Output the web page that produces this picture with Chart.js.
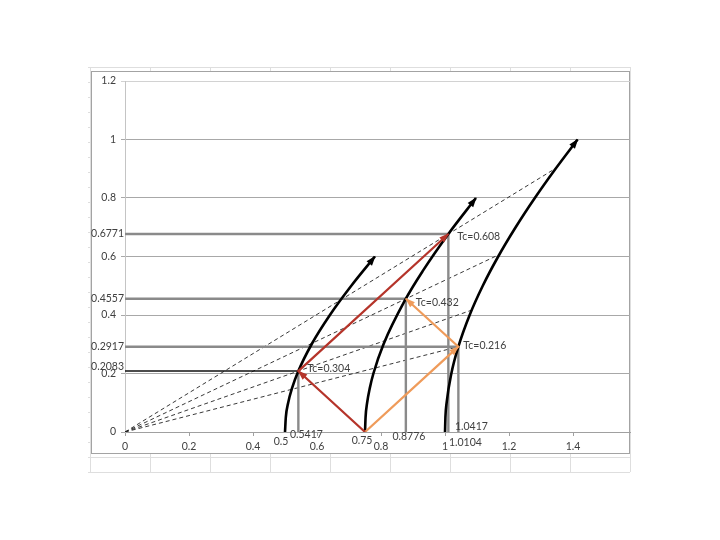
<!DOCTYPE html>
<html><head><meta charset="utf-8">
<script src="https://cdn.jsdelivr.net/npm/chart.js@4.4.1/dist/chart.umd.min.js"></script>
<style>html,body{margin:0;padding:0;background:#fff}#wrap{width:720px;height:540px}</style>
</head><body><div id="wrap"><canvas id="c" width="720" height="540"></canvas></div>
<script>
// ---- data ----
const xTicks = [0, 0.2, 0.4, 0.6, 0.8, 1, 1.2, 1.4];
const yTicks = [0, 0.2, 0.4, 0.6, 0.8, 1, 1.2];

const curve1X = [0.5, 0.5025, 0.5099, 0.5220, 0.5417, 0.5831, 0.6403, 0.7071, 0.7810];
const curve1Y = [0, 0.05, 0.1, 0.15, 0.2083, 0.3, 0.4, 0.5, 0.6];
const curve2X = [0.75, 0.7517, 0.7566, 0.7649, 0.7762, 0.8078, 0.8776, 0.9301, 1.0104, 1.0966];
const curve2Y = [0, 0.05, 0.1, 0.15, 0.2, 0.3, 0.4557, 0.55, 0.6771, 0.8];
const curve3X = [1, 1.0012, 1.0050, 1.0198, 1.0417, 1.0770, 1.1180, 1.1662, 1.2207, 1.2806, 1.3454, 1.4142];
const curve3Y = [0, 0.05, 0.1, 0.2, 0.2917, 0.4, 0.5, 0.6, 0.7, 0.8, 0.9, 1.0];

const redX = [0.75, 0.5417, 1.0104];
const redY = [0, 0.2083, 0.6771];
const orangeX = [0.75, 1.0417, 0.8776];
const orangeY = [0, 0.2917, 0.4557];

const markX = [0.5417, 0.8776, 1.0104, 1.0417];
const markY = [0.2083, 0.4557, 0.6771, 0.2917];
const tcLabels = ['Tc=0.304', 'Tc=0.432', 'Tc=0.608', 'Tc=0.216'];

const dashEndX = [1.3450, 1.1700, 1.0834, 1.0417];
const dashEndY = [0.9010, 0.6070, 0.4167, 0.2917];

const bottomLabelVals = [0.5, 0.5417, 0.75, 0.8776, 1.0104, 1.0417];
const leftLabelVals = [0.6771, 0.4557, 0.2917, 0.2083];

// ---- style / placement (not data) ----
const FONT = '10.5px Lato';
const TXT = '#404040';
const tcOffsets = [[9, -2], [10, 4], [9, 3], [5, -1]];
const bottomOffsets = [[-4, 10], [8, 3], [-3, 9], [3, 5], [17, 11], [13, -5]];
const leftOffsets = [0, 0, 0, -4];

const pts = (xs, ys) => xs.map((x, i) => ({x: x, y: ys[i]}));
const ds = [];
ds.push({id:'red', data: pts(redX, redY), borderColor:'#B5342A', borderWidth:2.2, arrowsAt:[1,2]});
ds.push({id:'orange', data: pts(orangeX, orangeY), borderColor:'#EF9B5A', borderWidth:2.2, arrowsAt:[1,2]});
[[curve1X,curve1Y],[curve2X,curve2Y],[curve3X,curve3Y]].forEach(c => {
  ds.push({id:'curve', data: pts(c[0], c[1]), borderColor:'#000', borderWidth:2.6,
    cubicInterpolationMode:'monotone', arrowsAt:[c[0].length-1]});
});
markX.forEach((mx, i) => {
  const my = markY[i];
  ds.push({id:'hl', data:[{x:0,y:my},{x:mx,y:my}], borderColor: i===0 ? '#111' : '#8a8a8a', borderWidth: i===0 ? 1.4 : 2.4});
  ds.push({id:'vl', data:[{x:mx,y:0},{x:mx,y:my}], borderColor:'#8a8a8a', borderWidth:2.4});
});
dashEndX.forEach((ex, i) => {
  ds.push({id:'dash', data:[{x:0,y:0},{x:ex,y:dashEndY[i]}], borderColor:'#222', borderWidth:0.9, borderDash:[4,3]});
});
ds.forEach(d => { d.showLine = true; d.pointRadius = 0; d.fill = false; d.tension = d.tension || 0; });

function arrowHead(ctx, x0, y0, x1, y1, color, len, w) {
  const a = Math.atan2(y1 - y0, x1 - x0);
  ctx.save(); ctx.translate(x1, y1); ctx.rotate(a);
  ctx.beginPath(); ctx.moveTo(1, 0); ctx.lineTo(-len, w / 2); ctx.lineTo(-len, -w / 2); ctx.closePath();
  ctx.fillStyle = color; ctx.fill(); ctx.restore();
}

const sheetPlugin = {
  id: 'sheet',
  beforeDraw(chart) {
    const ctx = chart.ctx;
    ctx.save();
    ctx.fillStyle = '#fff'; ctx.fillRect(0, 0, 720, 540);
    ctx.strokeStyle = '#dedede'; ctx.lineWidth = 1;
    for (let k = 0; k <= 9; k++) { const x = 90.5 + 60 * k; ctx.beginPath(); ctx.moveTo(x, 67); ctx.lineTo(x, 472); ctx.stroke(); }
    for (let k = 0; k <= 27; k++) { const y = 67.5 + 15 * k; ctx.beginPath(); ctx.moveTo(88, y); ctx.lineTo(630, y); ctx.stroke(); }
    ctx.fillStyle = '#fff'; ctx.fillRect(92, 71, 538, 383);
    ctx.strokeStyle = '#a3a3a3'; ctx.strokeRect(91.5, 71.5, 538, 382);
    ctx.restore();
  },
  afterDatasetsDraw(chart) {
    const ctx = chart.ctx;
    chart.data.datasets.forEach((d, di) => {
      if (!d.arrowsAt) return;
      const meta = chart.getDatasetMeta(di);
      d.arrowsAt.forEach(k => {
        const p1 = meta.data[k], p0 = meta.data[k - 1];
        arrowHead(ctx, p0.x, p0.y, p1.x, p1.y, d.borderColor, 9, 7);
      });
    });
  },
  afterDraw(chart) {
    const ctx = chart.ctx, xs = chart.scales.x, ys = chart.scales.y;
    ctx.save();
    ctx.font = FONT; ctx.fillStyle = TXT; ctx.textBaseline = 'middle';
    ctx.textAlign = 'left';
    markX.forEach((mx, i) => {
      ctx.fillText(tcLabels[i], xs.getPixelForValue(mx) + tcOffsets[i][0], ys.getPixelForValue(markY[i]) + tcOffsets[i][1]);
    });
    ctx.textAlign = 'center';
    bottomLabelVals.forEach((v, i) => {
      ctx.fillText(String(v), xs.getPixelForValue(v) + bottomOffsets[i][0], ys.getPixelForValue(0) + bottomOffsets[i][1]);
    });
    ctx.textAlign = 'right';
    leftLabelVals.forEach((v, i) => {
      ctx.fillText(String(v), xs.getPixelForValue(0) - 1, ys.getPixelForValue(v) + leftOffsets[i]);
    });
    ctx.restore();
  }
};

Chart.defaults.font.family = 'Lato';
Chart.defaults.font.size = 10.5;
Chart.defaults.color = TXT;

new Chart(document.getElementById('c'), {
  type: 'scatter',
  data: { datasets: ds },
  plugins: [sheetPlugin],
  options: {
    responsive: false, animation: false, devicePixelRatio: 1,
    layout: { padding: { left: 0, top: 81, right: 90, bottom: 78 } },
    plugins: { legend: { display: false }, tooltip: { enabled: false } },
    scales: {
      x: {
        type: 'linear', min: 0, max: 1.578,
        afterBuildTicks: s => { s.ticks = xTicks.map(v => ({ value: v })); },
        afterFit: s => { s.height = 30; },
        border: { color: '#a0a0a0', width: 1 },
        grid: { drawOnChartArea: false, drawTicks: true, tickLength: 4, color: '#a0a0a0' },
        ticks: { padding: 4, maxRotation: 0, autoSkip: false, callback: v => String(+(+v).toFixed(4)) }
      },
      y: {
        type: 'linear', min: 0, max: 1.2,
        afterBuildTicks: s => { s.ticks = yTicks.map(v => ({ value: v })); },
        afterFit: s => { s.width = 125; },
        border: { color: '#c4c4c4', width: 1 },
        grid: { tickLength: 4, color: c => (c.tick && c.tick.value === 1.2) ? '#d2d2d2' : '#a8a8a8' },
        ticks: { padding: 5, autoSkip: false, callback: v => String(+(+v).toFixed(4)) }
      }
    }
  }
});
</script>
</body></html>
